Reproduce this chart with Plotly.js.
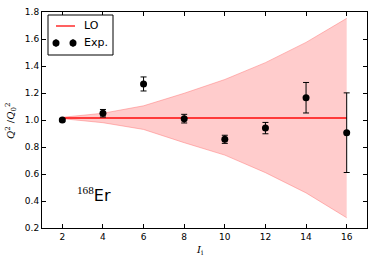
<!DOCTYPE html>
<html><head><meta charset="utf-8">
<script src="https://cdn.plot.ly/plotly-3.0.1.min.js"></script>
<style>html,body{margin:0;padding:0;background:#fff}#c{width:374px;height:263px}</style>
</head><body><div id="c"></div>
<script>
const spin = [2, 4, 6, 8, 10, 12, 14, 16];
const expRatio = [1.00, 1.05, 1.267, 1.01, 0.857, 0.94, 1.165, 0.906];
const expErr = [0.012, 0.028, 0.052, 0.032, 0.03, 0.042, 0.113, 0.295];
const loRatio = [1.015, 1.015, 1.015, 1.015, 1.015, 1.015, 1.015, 1.015];
const bandUpper = [1.02, 1.05, 1.105, 1.198, 1.30, 1.425, 1.575, 1.753];
const bandLower = [1.01, 0.98, 0.93, 0.832, 0.74, 0.61, 0.46, 0.276];
const xTicks = [2, 4, 6, 8, 10, 12, 14, 16];

const traces = [
  {x: spin, y: bandLower, mode: 'lines', line: {color: 'rgba(255,120,120,0.5)', width: 1}, showlegend: false, hoverinfo: 'skip'},
  {x: spin, y: bandUpper, mode: 'lines', fill: 'tonexty', fillcolor: 'rgba(255,0,0,0.2)', line: {color: 'rgba(255,120,120,0.5)', width: 1}, showlegend: false, hoverinfo: 'skip'},
  {x: spin, y: loRatio, mode: 'lines', line: {color: 'rgba(255,30,30,0.85)', width: 2}, showlegend: false},
  {x: spin, y: expRatio, mode: 'markers', marker: {color: 'black', size: 7},
   error_y: {type: 'data', array: expErr, visible: true, color: 'black', thickness: 1, width: 3}, showlegend: false}
];

const font = {family: 'DejaVu Sans', size: 9, color: 'black'};
const layout = {
  width: 374, height: 263,
  margin: {l: 42, r: 7, t: 12, b: 35},
  paper_bgcolor: 'white', plot_bgcolor: 'white',
  font: font,
  showlegend: false,
  xaxis: {range: [1, 17], tickvals: xTicks, ticks: 'inside', ticklen: 4, tickcolor: 'black',
          showline: true, linecolor: 'black', linewidth: 1, mirror: 'allticks', showgrid: false, zeroline: false, tickfont: font},
  yaxis: {range: [0.2, 1.8], dtick: 0.2, tick0: 0.2, tickformat: '.1f', ticks: 'inside', ticklen: 4, tickcolor: 'black',
          showline: true, linecolor: 'black', linewidth: 1, mirror: 'allticks', showgrid: false, zeroline: false, tickfont: font},
  shapes: [
    {type: 'rect', xref: 'paper', yref: 'paper', x0: (48-42)/325, x1: (113-42)/325, y0: (228-55)/216, y1: (228-15)/216,
     line: {color: 'black', width: 1}, fillcolor: 'white'},
    {type: 'line', xref: 'paper', yref: 'paper', x0: (56-42)/325, x1: (75-42)/325, y0: (228-26)/216, y1: (228-26)/216,
     line: {color: 'rgba(255,30,30,0.7)', width: 2}},
    {type: 'line', xref: 'paper', yref: 'paper', x0: (56-42)/325, x1: (56-42)/325, y0: (228-47)/216, y1: (228-39)/216, line: {color: 'black', width: 1}},
    {type: 'line', xref: 'paper', yref: 'paper', x0: (73-42)/325, x1: (73-42)/325, y0: (228-47)/216, y1: (228-39)/216, line: {color: 'black', width: 1}},
    {type: 'circle', xref: 'paper', yref: 'paper', x0: (52.5-42)/325, x1: (59.5-42)/325, y0: (228-46.5)/216, y1: (228-39.5)/216, line: {color: 'black', width: 0}, fillcolor: 'black'},
    {type: 'circle', xref: 'paper', yref: 'paper', x0: (69.5-42)/325, x1: (76.5-42)/325, y0: (228-46.5)/216, y1: (228-39.5)/216, line: {color: 'black', width: 0}, fillcolor: 'black'}
  ],
  annotations: [
    {xref: 'paper', yref: 'paper', x: (82-42)/325, y: (228-26)/216, xanchor: 'left', yanchor: 'middle', text: 'LO', showarrow: false,
     font: {family: 'DejaVu Sans', size: 11, color: 'black'}},
    {xref: 'paper', yref: 'paper', x: (82-42)/325, y: (228-43)/216, xanchor: 'left', yanchor: 'middle', text: 'Exp.', showarrow: false,
     font: {family: 'DejaVu Sans', size: 11, color: 'black'}},
    {xref: 'paper', yref: 'paper', x: (75-42)/325, y: (228-194)/216, xanchor: 'left', yanchor: 'middle', showarrow: false,
     text: '<sup><span style="font-family:Liberation Serif">168</span></sup>Er', font: {family: 'DejaVu Sans', size: 16, color: 'black'}},
    {xref: 'paper', yref: 'paper', x: (11-42)/325, y: (228-121)/216, xanchor: 'center', yanchor: 'middle', textangle: -90, showarrow: false,
     text: '<i>Q</i><sup>2</sup> /<i>Q</i><sub>0</sub><sup>2</sup>', font: {family: 'DejaVu Serif', size: 10, color: 'black'}},
    {xref: 'paper', yref: 'paper', x: (200-42)/325, y: (228-251)/216, xanchor: 'center', yanchor: 'middle', showarrow: false,
     text: '<i>I</i><sub>i</sub>', font: {family: 'DejaVu Serif', size: 10, color: 'black'}}
  ]
};
Plotly.newPlot('c', traces, layout, {displayModeBar: false, staticPlot: true});
</script></body></html>
